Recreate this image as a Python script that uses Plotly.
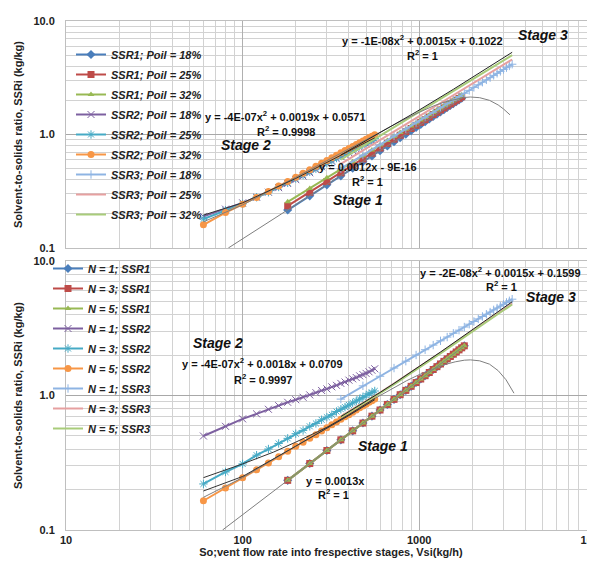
import plotly.graph_objects as go

# ---------------- DATA ----------------
# Top panel (effect of oil content)
X_S1_TOP = [180, 240, 300, 360, 420, 480, 540, 600, 660, 720, 780, 840, 900, 960, 1020,
            1080, 1140, 1200, 1260, 1320, 1380, 1440, 1500, 1560, 1620, 1680, 1740]
SSR1_P18 = [0.216, 0.288, 0.36, 0.432, 0.504, 0.576, 0.648, 0.72, 0.792, 0.864, 0.936, 1.008, 1.08, 1.152,
            1.224, 1.296, 1.368, 1.44, 1.512, 1.584, 1.656, 1.728, 1.80, 1.872, 1.944, 2.016, 2.088]
SSR1_P25 = [0.235, 0.31, 0.385, 0.46, 0.535, 0.61, 0.685, 0.76, 0.835, 0.91, 0.985, 1.06, 1.13, 1.205,
            1.28, 1.35, 1.425, 1.50, 1.57, 1.645, 1.715, 1.79, 1.86, 1.935, 2.005, 2.08, 2.15]
SSR1_P32 = [0.255, 0.335, 0.415, 0.495, 0.575, 0.65, 0.73, 0.81, 0.885, 0.96, 1.04, 1.115, 1.19, 1.265,
            1.34, 1.415, 1.49, 1.565, 1.64, 1.715, 1.79, 1.86, 1.935, 2.01, 2.08, 2.155, 2.23]

X_S2 = [60, 80, 100, 120, 140, 160, 180, 200, 220, 240, 260, 280, 300, 320, 340, 360, 380,
        400, 420, 440, 460, 480, 500, 520, 540, 560]
SSR2_P18 = [0.19, 0.22, 0.25, 0.28, 0.31, 0.34, 0.37, 0.40, 0.43, 0.46, 0.49, 0.52, 0.55, 0.58, 0.61,
            0.64, 0.665, 0.69, 0.72, 0.745, 0.77, 0.80, 0.825, 0.85, 0.875, 0.90]
SSR2_P25 = [0.18, 0.215, 0.245, 0.28, 0.31, 0.345, 0.375, 0.41, 0.44, 0.47, 0.50, 0.53, 0.56, 0.59, 0.62,
            0.65, 0.68, 0.71, 0.74, 0.765, 0.79, 0.82, 0.845, 0.87, 0.895, 0.92]
SSR2_P32 = [0.16, 0.205, 0.243, 0.279, 0.315, 0.351, 0.386, 0.421, 0.456, 0.49, 0.524, 0.558, 0.591,
            0.624, 0.657, 0.689, 0.721, 0.753, 0.784, 0.816, 0.846, 0.877, 0.907, 0.937, 0.966, 0.996]

X_S3 = [360, 480, 600, 720, 840, 960, 1080, 1200, 1320, 1440, 1560, 1680, 1800, 1920, 2040,
        2160, 2280, 2400, 2520, 2640, 2760, 2880, 3000, 3120, 3240, 3360]
SSR3_P18 = [0.50, 0.66, 0.81, 0.97, 1.12, 1.27, 1.42, 1.57, 1.72, 1.87, 2.01, 2.16, 2.31, 2.45, 2.60,
            2.74, 2.89, 3.03, 3.17, 3.32, 3.46, 3.60, 3.74, 3.88, 4.02, 4.16]
SSR3_P25 = [0.55, 0.72, 0.89, 1.06, 1.23, 1.40, 1.56, 1.73, 1.89, 2.05, 2.21, 2.38, 2.54, 2.70, 2.86,
            3.02, 3.18, 3.33, 3.49, 3.65, 3.80, 3.96, 4.12, 4.27, 4.43, 4.58]
SSR3_P32 = [0.60, 0.79, 0.98, 1.16, 1.34, 1.52, 1.70, 1.88, 2.06, 2.24, 2.42, 2.59, 2.77, 2.94, 3.12,
            3.29, 3.46, 3.64, 3.81, 3.98, 4.15, 4.32, 4.49, 4.66, 4.83, 5.00]

# top trendlines
TOP_LIN_X = [83, 1740]
TOP_LIN_Y = [0.1, 2.088]
TOP_QUAD_X = [60, 100, 200, 300, 400, 560, 800, 1000, 1200, 1400, 1600, 1800, 1950, 2200, 2500, 2800, 3000, 3265]
TOP_QUAD_Y = [0.17, 0.24, 0.42, 0.59, 0.75, 0.99, 1.33, 1.57, 1.78, 1.94, 2.05, 2.12, 2.14, 2.11, 2.0, 1.82, 1.68, 1.49]
TOP_S2_TREND_X = [60, 100, 200, 300, 400, 560]
TOP_S2_TREND_Y = [0.195, 0.25, 0.41, 0.565, 0.71, 0.935]
TOP_S3_TREND_X = [360, 960, 1560, 2160, 2760, 3360]
TOP_S3_TREND_Y = [0.66, 1.58, 2.5, 3.42, 4.33, 5.3]

# Bottom panel (effect of number of stages)
X_S1_BOT = [180, 240, 300, 360, 420, 480, 540, 600, 660, 720, 780, 840, 900, 960, 1020, 1080,
            1140, 1200, 1260, 1320, 1380, 1440, 1500, 1560, 1620, 1680, 1740, 1800]
SSR1_N1 = [0.234, 0.312, 0.39, 0.468, 0.546, 0.624, 0.702, 0.78, 0.858, 0.936, 1.014, 1.092, 1.17, 1.248,
           1.326, 1.404, 1.482, 1.56, 1.638, 1.716, 1.794, 1.872, 1.95, 2.028, 2.106, 2.184, 2.262, 2.34]
SSR1_N3 = [0.234, 0.312, 0.39, 0.468, 0.546, 0.624, 0.702, 0.78, 0.858, 0.936, 1.014, 1.092, 1.17, 1.248,
           1.326, 1.404, 1.482, 1.56, 1.638, 1.716, 1.794, 1.872, 1.95, 2.028, 2.106, 2.184, 2.262, 2.34]
SSR1_N5 = [0.234, 0.312, 0.39, 0.468, 0.546, 0.624, 0.702, 0.78, 0.858, 0.936, 1.014, 1.092, 1.17, 1.248,
           1.326, 1.404, 1.482, 1.56, 1.638, 1.716, 1.794, 1.872, 1.95, 2.028, 2.106, 2.184, 2.262, 2.34]

SSR2_N1 = [0.50, 0.59, 0.67, 0.73, 0.79, 0.84, 0.89, 0.93, 0.97, 1.01, 1.05, 1.09, 1.12, 1.16, 1.19,
           1.23, 1.26, 1.30, 1.33, 1.36, 1.40, 1.43, 1.46, 1.50, 1.54, 1.58]
SSR2_N3 = [0.22, 0.27, 0.31, 0.36, 0.40, 0.44, 0.48, 0.52, 0.55, 0.59, 0.62, 0.66, 0.69, 0.72, 0.76,
           0.79, 0.82, 0.85, 0.88, 0.91, 0.94, 0.97, 1.00, 1.03, 1.05, 1.08]
SSR2_N5 = [0.165, 0.205, 0.245, 0.28, 0.315, 0.35, 0.385, 0.42, 0.45, 0.48, 0.51, 0.545, 0.575, 0.605,
           0.635, 0.665, 0.695, 0.72, 0.75, 0.78, 0.81, 0.835, 0.86, 0.89, 0.915, 0.94]

SSR3_N1 = [0.94, 1.18, 1.39, 1.60, 1.80, 2.00, 2.19, 2.37, 2.55, 2.72, 2.90, 3.06, 3.23, 3.39, 3.55,
           3.71, 3.87, 4.02, 4.17, 4.33, 4.47, 4.62, 4.77, 4.92, 5.06, 5.20]
SSR3_N3 = [0.70, 0.875, 1.05, 1.225, 1.395, 1.57, 1.74, 1.91, 2.08, 2.25, 2.42, 2.58, 2.75, 2.92, 3.08,
           3.25, 3.41, 3.57, 3.73, 3.89, 4.05, 4.21, 4.37, 4.52, 4.68, 4.83]
SSR3_N5 = [0.69, 0.865, 1.04, 1.21, 1.38, 1.55, 1.72, 1.89, 2.055, 2.22, 2.39, 2.55, 2.72, 2.88, 3.04,
           3.2, 3.36, 3.52, 3.68, 3.84, 3.99, 4.15, 4.3, 4.45, 4.6, 4.75]

# bottom trendlines
BOT_LIN_X = [77, 1800]
BOT_LIN_Y = [0.1, 2.34]
BOT_QUAD_X = [60, 100, 200, 300, 400, 560, 700, 850, 1000, 1200, 1400, 1600, 1800, 1950, 2200, 2500, 2800, 3100, 3440]
BOT_QUAD_Y = [0.175, 0.245, 0.42, 0.575, 0.72, 0.95, 1.12, 1.29, 1.43, 1.58, 1.70, 1.78, 1.83, 1.84, 1.81, 1.71, 1.53, 1.31, 1.04]
BOT_S2_TREND_A_X = [60, 100, 150, 200, 300, 400, 560]
BOT_S2_TREND_A_Y = [0.245, 0.31, 0.38, 0.45, 0.58, 0.72, 0.95]
BOT_S2_TREND_B_X = [60, 100, 200, 300, 400, 560]
BOT_S2_TREND_B_Y = [0.195, 0.25, 0.42, 0.57, 0.71, 0.93]
BOT_S3_TREND_Y = [0.697, 0.875, 1.053, 1.23, 1.406, 1.58, 1.757, 1.93, 2.105, 2.28, 2.45, 2.62, 2.795,
                  2.965, 3.135, 3.305, 3.475, 3.645, 3.81, 3.98, 4.15, 4.315, 4.48, 4.645, 4.81, 4.975]

TOP_NAMES = ["SSR1; Poil = 18%", "SSR1; Poil = 25%", "SSR1; Poil = 32%",
             "SSR2; Poil = 18%", "SSR2; Poil = 25%", "SSR2; Poil = 32%",
             "SSR3; Poil = 18%", "SSR3; Poil = 25%", "SSR3; Poil = 32%"]
BOT_NAMES = ["N = 1; SSR1", "N = 3; SSR1", "N = 5; SSR1",
             "N = 1; SSR2", "N = 3; SSR2", "N = 5; SSR2",
             "N = 1; SSR3", "N = 3; SSR3", "N = 5; SSR3"]

X_TICKS = [10, 100, 1000, 10000]
X_TICK_TEXT = ["10", "100", "1000", "10000"]
Y_TICKS = [0.1, 1, 10]
Y_TICK_TEXT = ["0.1", "1.0", "10.0"]

# ---------------- STYLE ----------------
COLORS = ["#4A7EBB", "#BE4B48", "#98B954", "#7D60A0", "#46AAC5", "#F79646",
          "#8EB4E3", "#E6A0A0", "#A9CC7A"]
SYMBOLS = ["diamond", "square", "triangle-up", "x-thin", "asterisk", "circle",
           "cross-thin", None, None]
SIZES = [7, 7, 6, 7, 7, 7, 6, 0, 0]
FONT = "Liberation Sans Narrow, Liberation Sans, Arial, sans-serif"
FONT_REG = "Liberation Sans, Arial, sans-serif"

W, H = 595, 564
L, R, T, B = 58, 7, 13, 42


def pxx(x):
    return (x - L) / (W - L - R)


def pxy(y):
    return 1 - (y - T) / (H - T - B)


fig = go.Figure()


def add_series(x, y, i, name, xa, ya, legend):
    sym = SYMBOLS[i]
    if sym is None:
        mode = "lines"
        marker = None
    else:
        mode = "lines+markers"
        if sym in ("x-thin", "asterisk", "cross-thin"):
            marker = dict(symbol=sym, size=SIZES[i], color=COLORS[i],
                          line=dict(color=COLORS[i], width=1))
        else:
            marker = dict(symbol=sym, size=SIZES[i], color=COLORS[i], line=dict(width=0))
    fig.add_trace(go.Scatter(x=x, y=y, mode=mode, name=name, xaxis=xa, yaxis=ya,
                             legend=legend, legendgroup=legend + str(i),
                             line=dict(color=COLORS[i], width=2),
                             marker=marker))


def add_trend(x, y, xa, ya, color="#000000", width=1):
    fig.add_trace(go.Scatter(x=x, y=y, mode="lines", xaxis=xa, yaxis=ya, showlegend=False,
                             hoverinfo="skip", line=dict(color=color, width=width)))


top_series = [(X_S1_TOP, SSR1_P18), (X_S1_TOP, SSR1_P25), (X_S1_TOP, SSR1_P32),
              (X_S2, SSR2_P18), (X_S2, SSR2_P25), (X_S2, SSR2_P32),
              (X_S3, SSR3_P18), (X_S3, SSR3_P25), (X_S3, SSR3_P32)]
for i, (x, y) in enumerate(top_series):
    add_series(x, y, i, TOP_NAMES[i], "x", "y", "legend")
add_trend(TOP_LIN_X, TOP_LIN_Y, "x", "y", "#7F7F7F")
add_trend(TOP_QUAD_X, TOP_QUAD_Y, "x", "y", "#7F7F7F")
add_trend(TOP_S2_TREND_X, TOP_S2_TREND_Y, "x", "y", "#333333")
add_trend(TOP_S3_TREND_X, TOP_S3_TREND_Y, "x", "y", "#222222")

bot_series = [(X_S1_BOT, SSR1_N1), (X_S1_BOT, SSR1_N3), (X_S1_BOT, SSR1_N5),
              (X_S2, SSR2_N1), (X_S2, SSR2_N3), (X_S2, SSR2_N5),
              (X_S3, SSR3_N1), (X_S3, SSR3_N3), (X_S3, SSR3_N5)]
for i, (x, y) in enumerate(bot_series):
    add_series(x, y, i, BOT_NAMES[i], "x2", "y2", "legend2")
add_trend(BOT_LIN_X, BOT_LIN_Y, "x2", "y2", "#7F7F7F")
add_trend(BOT_QUAD_X, BOT_QUAD_Y, "x2", "y2", "#7F7F7F")
add_trend(BOT_S2_TREND_A_X, BOT_S2_TREND_A_Y, "x2", "y2", "#333333")
add_trend(BOT_S2_TREND_B_X, BOT_S2_TREND_B_Y, "x2", "y2", "#333333")
add_trend(X_S3, BOT_S3_TREND_Y, "x2", "y2", "#222222")

MINOR_X = [20, 30, 40, 50, 60, 70, 80, 90, 200, 300, 400, 500, 600, 700, 800, 900,
           2000, 3000, 4000, 5000, 6000, 7000, 8000, 9000]
MINOR_Y = [0.2, 0.3, 0.4, 0.5, 0.6, 0.7, 0.8, 0.9, 2, 3, 4, 5, 6, 7, 8, 9]

tickfont = dict(family=FONT_REG, size=11, color="#222222", weight="bold")
titlefont = dict(family=FONT, size=11, color="#222222", weight="bold")

xcommon = dict(type="log", range=[1, 4.001], tickmode="array", tickvals=X_TICKS, ticktext=X_TICK_TEXT,
               showgrid=True, gridcolor="#B0B0B0", gridwidth=1,
               minor=dict(tickmode="array", tickvals=MINOR_X, showgrid=True, gridcolor="#D2D2D2", ticks=""),
               showline=True, linecolor="#BFBFBF", mirror=True, ticks="", zeroline=False,
               tickfont=tickfont, ticklabeloverflow="allow")
ycommon = dict(type="log", range=[-1, 1], tickmode="array", tickvals=Y_TICKS, ticktext=Y_TICK_TEXT,
               showgrid=True, gridcolor="#A8A8A8", gridwidth=1,
               minor=dict(tickmode="array", tickvals=MINOR_Y, showgrid=True, gridcolor="#D2D2D2", ticks=""),
               showline=True, linecolor="#BFBFBF", mirror=True, ticks="", zeroline=False,
               tickfont=tickfont, ticklabelstandoff=8,
               title=dict(text="Solvent-to-solids ratio, SSRi (kg/kg)", font=titlefont, standoff=8))

legfont = dict(family=FONT, size=11, color="#222222", weight="bold", style="italic")
fig.update_layout(
    width=W, height=H,
    margin=dict(l=L, r=R, t=T, b=B, autoexpand=False),
    paper_bgcolor="white", plot_bgcolor="white",
    xaxis=dict(xcommon, domain=[0, 1], anchor="y", showticklabels=False),
    yaxis=dict(ycommon, domain=[pxy(240), 1], anchor="x"),
    xaxis2=dict(xcommon, domain=[0, 1], anchor="y2",
                title=dict(text="So;vent flow rate into frespective stages, Vsi(kg/h)",
                           font=titlefont, standoff=0)),
    yaxis2=dict(ycommon, domain=[0, pxy(253)], anchor="x2"),
    legend=dict(x=pxx(63), y=pxy(32), xanchor="left", yanchor="top", bgcolor="rgba(0,0,0,0)",
                font=legfont, traceorder="grouped", tracegroupgap=1, itemclick=False),
    legend2=dict(x=pxx(40), y=pxy(246), xanchor="left", yanchor="top", bgcolor="rgba(0,0,0,0)",
                 font=legfont, traceorder="grouped", tracegroupgap=1, itemclick=False),
    showlegend=True,
)

eqfont = dict(family=FONT, size=11, color="#111111", weight="bold")
stagefont = dict(family=FONT_REG, size=14, color="#111111", weight="bold", style="italic")

ANNOTS = [
    ("Stage 3", 535, 27, stagefont),
    ("y = -1E-08x<sup>2</sup> + 0.0015x + 0.1022", 414, 32, eqfont),
    ("R<sup>2</sup> = 1", 414, 47, eqfont),
    ("y = -4E-07x<sup>2</sup> + 0.0019x + 0.0571", 277, 108, eqfont),
    ("R<sup>2</sup> = 0.9998", 278, 123, eqfont),
    ("Stage 2", 238, 137, stagefont),
    ("y = 0.0012x - 9E-16", 360, 159, eqfont),
    ("R<sup>2</sup> = 1", 359, 173, eqfont),
    ("Stage 1", 350, 192, stagefont),
    ("y = -2E-08x<sup>2</sup> + 0.0015x + 0.1599", 492, 264, eqfont),
    ("R<sup>2</sup> = 1", 493, 278, eqfont),
    ("Stage 3", 543, 289, stagefont),
    ("Stage 2", 210, 335, stagefont),
    ("y = -4E-07x<sup>2</sup> + 0.0018x + 0.0709", 255, 355, eqfont),
    ("R<sup>2</sup> = 0.9997", 255, 371, eqfont),
    ("Stage 1", 375, 438, stagefont),
    ("y = 0.0013x", 327, 473, eqfont),
    ("R<sup>2</sup> = 1", 325, 486, eqfont),
]
for text, ax_, ay_, f in ANNOTS:
    fig.add_annotation(text=text, x=pxx(ax_), y=pxy(ay_), xref="paper", yref="paper",
                       showarrow=False, font=f, xanchor="center", yanchor="middle")

fig.write_html("out.html")
